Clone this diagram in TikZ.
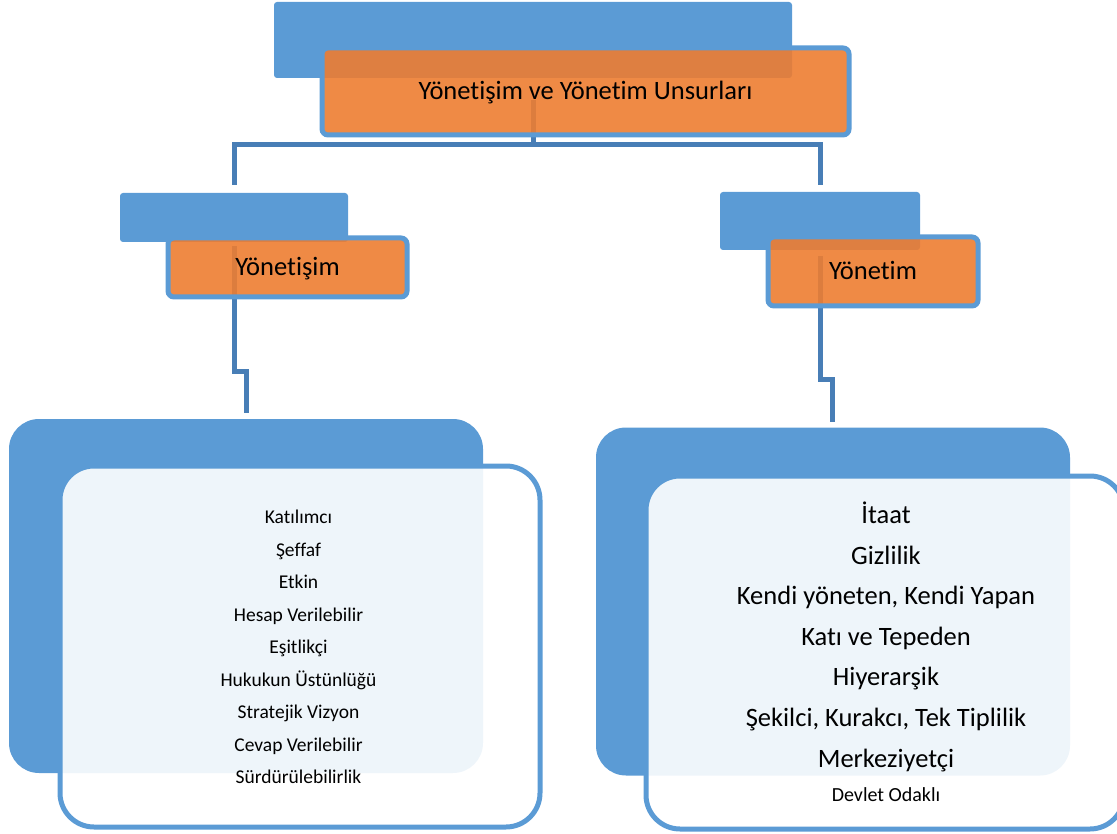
\documentclass[tikz,border=0pt]{standalone}
\usepackage{fontspec}
\setmainfont{Carlito}[Ligatures={NoCommon,NoContextual}]
\definecolor{accblue}{HTML}{5B9BD5}
\definecolor{accorange}{HTML}{ED7D31}
\definecolor{connblue}{RGB}{72,126,182}
\tikzset{
  bluebox/.style={fill=accblue, draw=none, rounded corners=3pt, inner sep=0pt},
  orangebox/.style={fill=accorange, fill opacity=0.9, draw=accblue, line width=5pt, rounded corners=6pt, inner sep=0pt, text opacity=1},
  bigblue/.style={fill=accblue, draw=none, rounded corners=30pt, inner sep=0pt},
  bigwhite/.style={fill=white, fill opacity=0.9, draw=accblue, draw opacity=1, line width=5pt, rounded corners=34pt, inner sep=0pt},
  conn/.style={draw=connblue, line width=5pt},
  bigtxt/.style={inner sep=0pt, anchor=base, font=\fontsize{26.5}{30}\selectfont},
  lefttxt/.style={inner sep=0pt, anchor=base, font=\fontsize{19.5}{22}\selectfont},
  smalltxt/.style={inner sep=0pt, anchor=base, font=\fontsize{20}{22}\selectfont},
}
\begin{document}
\begin{tikzpicture}[x=1pt,y=-1pt]
\useasboundingbox (0,0) rectangle (1117,834);
% level 0
\node[bluebox, minimum width=518pt, minimum height=76pt] (topblue) at (533,40) {};
% connectors (behind orange boxes)
\coordinate (topout) at (533,100);
\coordinate (hub) at (533,145);
\coordinate (lin) at (234,185);
\coordinate (rin) at (820,185);
\draw[conn] (topout) -- (hub) -| (lin);
\draw[conn] (hub) -| (rin);
\node[orangebox, minimum width=527pt, minimum height=87pt] (toporange) at (585.5,91.5) {};
\node[bigtxt] (toptxt) at (585.5,100) {Yönetişim ve Yönetim Unsurları};
% level 1 left
\node[bluebox, minimum width=228pt, minimum height=49pt] (lblue) at (234,217.5) {};
\coordinate (lout) at (234,246);
\coordinate (ljog1) at (234,372);
\coordinate (ljog2) at (246,372);
\coordinate (lend) at (246,413);
\draw[conn] (lout) -- (ljog1) -- (ljog2) -- (lend);
\node[orangebox, minimum width=239pt, minimum height=59pt] (lorange) at (287.5,267.5) {};
\node[bigtxt] (ltxt) at (287.5,275.5) {Yönetişim};
% level 1 right
\node[bluebox, minimum width=200pt, minimum height=58pt] (rblue) at (820,221) {};
\coordinate (rout) at (820,256);
\coordinate (rjog1) at (820,380);
\coordinate (rjog2) at (832,380);
\coordinate (rend) at (832,422);
\draw[conn] (rout) -- (rjog1) -- (rjog2) -- (rend);
\node[orangebox, minimum width=210pt, minimum height=69pt] (rorange) at (873,271.5) {};
\node[bigtxt] (rtxt) at (873,279.5) {Yönetim};
% level 2 left
\node[bigblue, minimum width=474pt, minimum height=354pt] (lbig) at (246,596) {};
\node[bigwhite, minimum width=480pt, minimum height=361pt] (lwhite) at (300,646.5) {};
\foreach \t [count=\i from 0] in {Katılımcı, Şeffaf, Etkin, Hesap Verilebilir, Eşitlikçi, Hukukun Üstünlüğü, Stratejik Vizyon, Cevap Verilebilir, Sürdürülebilirlik}
  \node[lefttxt] (li\i) at (298.5,{523.5+32.5*\i}) {\t};
% level 2 right
\node[bigblue, minimum width=474pt, minimum height=348pt] (rbig) at (833,601.5) {};
\node[bigwhite, minimum width=478pt, minimum height=353pt] (rwhite) at (885,652.5) {};
\foreach \t [count=\i from 0] in {İtaat, Gizlilik, {Kendi yöneten, Kendi Yapan}, Katı ve Tepeden, Hiyerarşik, {Şekilci, Kurakcı, Tek Tiplilik}, Merkeziyetçi}
  \node[bigtxt] (ri\i) at (886,{523.5+40.6*\i}) {\t};
\node[smalltxt] (ri7) at (886,801) {Devlet Odaklı};
\end{tikzpicture}
\end{document}
